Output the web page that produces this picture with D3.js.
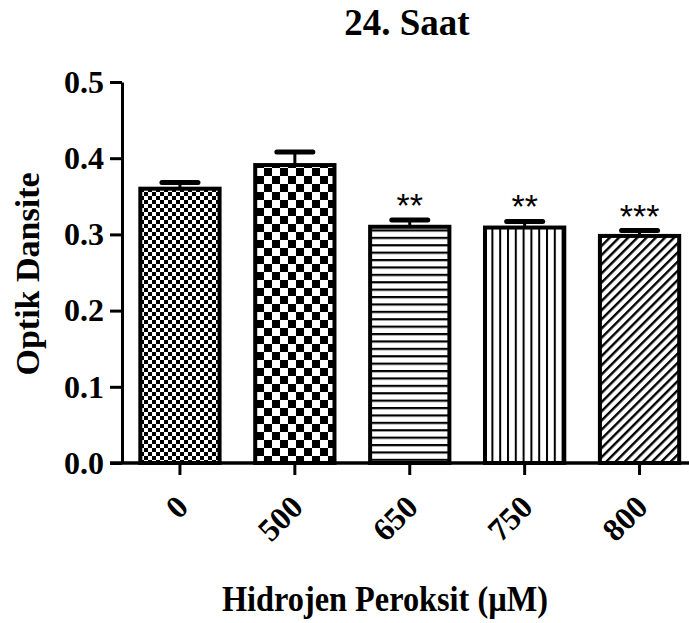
<!DOCTYPE html>
<html>
<head>
<meta charset="utf-8">
<script src="https://cdn.jsdelivr.net/npm/d3@7"></script>
<style>
  body { margin: 0; background: #fff; }
  text { font-family: "Liberation Serif", "Times New Roman", serif; font-weight: bold; }
</style>
</head>
<body>
<svg id="chart"></svg>
<script>
const W = 689
const H = 623
const margins = { top: 82, bottom: 160, left: 122, right: -8 }

// data
const doses = ['0', '500', '650', '750', '800']
const means = [0.36, 0.391, 0.31, 0.309, 0.298]
const errors = [0.008, 0.017, 0.009, 0.008, 0.007]
const stars = ['', '', '**', '**', '***']
const yTicks = [0, 0.1, 0.2, 0.3, 0.4, 0.5]
const fills = ['fine', 'check', 'horiz', 'vert', 'diag']

const rows = doses.map((d, i) => ({ dose: d, mean: means[i], err: errors[i], star: stars[i], fill: fills[i] }))

const svg = d3.select('svg#chart').attr('width', W).attr('height', H)

// hatch patterns
const defs = svg.append('defs')
function pattern(id, w, h, shapes, tf) {
  const p = defs.append('pattern').attr('id', id)
    .attr('patternUnits', 'userSpaceOnUse')
    .attr('width', w).attr('height', h)
  if (tf) p.attr('patternTransform', tf)
  p.append('rect').attr('width', w).attr('height', h).attr('fill', '#fff')
  shapes.forEach(s => p.append('rect').attr('x', s[0]).attr('y', s[1]).attr('width', s[2]).attr('height', s[3]).attr('fill', '#000'))
}
pattern('fine', 8, 8, [[0, 0, 4, 4], [4, 4, 4, 4]])
pattern('check', 16, 16, [[0, 0, 8, 8], [8, 8, 8, 8]])
pattern('horiz', 10, 7.4, [[0, 0, 10, 2.2]])
pattern('vert', 7.8, 10, [[0, 0, 2, 10]])
pattern('diag', 6.5, 6.5, [[0, 0, 2.4, 6.5]], 'rotate(45)')

const x = d3.scaleBand()
  .domain(doses)
  .range([margins.left + 0.5, W - margins.right])
  .paddingInner(0.31)
  .paddingOuter(0.155)

const y = d3.scaleLinear()
  .domain([0, 0.5])
  .range([H - margins.bottom, margins.top])

// bars
svg.append('g').selectAll('rect')
  .data(rows)
  .join('rect')
  .attr('x', d => x(d.dose))
  .attr('y', d => y(d.mean))
  .attr('width', x.bandwidth())
  .attr('height', d => y(0) - y(d.mean))
  .attr('fill', d => 'url(#' + d.fill + ')')
  .attr('stroke', '#000')
  .attr('stroke-width', 4)

// error bars (upper only)
const eb = svg.append('g').attr('stroke', '#000')
eb.selectAll('line.stem')
  .data(rows)
  .join('line')
  .attr('class', 'stem')
  .attr('x1', d => x(d.dose) + x.bandwidth() / 2)
  .attr('x2', d => x(d.dose) + x.bandwidth() / 2)
  .attr('y1', d => y(d.mean))
  .attr('y2', d => y(d.mean + d.err))
  .attr('stroke-width', 3)
eb.selectAll('line.cap')
  .data(rows)
  .join('line')
  .attr('class', 'cap')
  .attr('x1', d => x(d.dose) + x.bandwidth() / 2 - 18)
  .attr('x2', d => x(d.dose) + x.bandwidth() / 2 + 18)
  .attr('y1', d => y(d.mean + d.err))
  .attr('y2', d => y(d.mean + d.err))
  .attr('stroke-width', 5)
  .attr('stroke-linecap', 'round')

// significance stars
svg.append('g').selectAll('text')
  .data(rows.filter(d => d.star))
  .join('text')
  .attr('x', d => x(d.dose) + x.bandwidth() / 2)
  .attr('y', d => y(d.mean + d.err) - 3)
  .attr('text-anchor', 'middle')
  .style('font-family', '"Liberation Sans", Arial, sans-serif')
  .style('font-weight', 'normal')
  .attr('font-size', 34)
  .text(d => d.star)

// y axis
const yAxis = d3.axisLeft(y).tickValues(yTicks).tickFormat(d3.format('.1f')).tickSize(12).tickSizeOuter(0).tickPadding(6)
const gy = svg.append('g').attr('transform', 'translate(' + margins.left + ',0)').call(yAxis)
gy.select('.domain').attr('stroke-width', 3)
gy.selectAll('.tick line').attr('stroke-width', 3)
gy.selectAll('.tick text').attr('font-size', 32).attr('fill', '#000')
  .style('font-family', '"Liberation Serif", serif').style('font-weight', 'bold')

// x axis
const xAxis = d3.axisBottom(x).tickSize(12).tickSizeOuter(0)
const gx = svg.append('g').attr('transform', 'translate(0,' + y(0) + ')').call(xAxis)
gx.select('.domain').remove()
gx.append('line')
  .attr('x1', margins.left - 12).attr('x2', W)
  .attr('y1', 0).attr('y2', 0)
  .attr('stroke', '#000').attr('stroke-width', 3.5)
gx.selectAll('.tick line').attr('stroke-width', 3)
gx.selectAll('.tick text')
  .attr('y', 0).attr('dy', null)
  .attr('text-anchor', 'end')
  .attr('transform', 'translate(10,46) rotate(-45)')
  .attr('font-size', 32).attr('fill', '#000')
  .style('font-family', '"Liberation Serif", serif').style('font-weight', 'bold')

// titles
svg.append('text')
  .attr('x', 407).attr('y', 35)
  .attr('text-anchor', 'middle')
  .attr('font-size', 37)
  .text('24. Saat')

svg.append('text')
  .attr('transform', 'translate(39,274) rotate(-90)')
  .attr('text-anchor', 'middle')
  .attr('font-size', 34)
  .text('Optik Dansite')

svg.append('text')
  .attr('x', 385).attr('y', 611)
  .attr('text-anchor', 'middle')
  .attr('font-size', 36)
  .attr('textLength', 326)
  .attr('lengthAdjust', 'spacingAndGlyphs')
  .text('Hidrojen Peroksit (µM)')
</script>
</body>
</html>
